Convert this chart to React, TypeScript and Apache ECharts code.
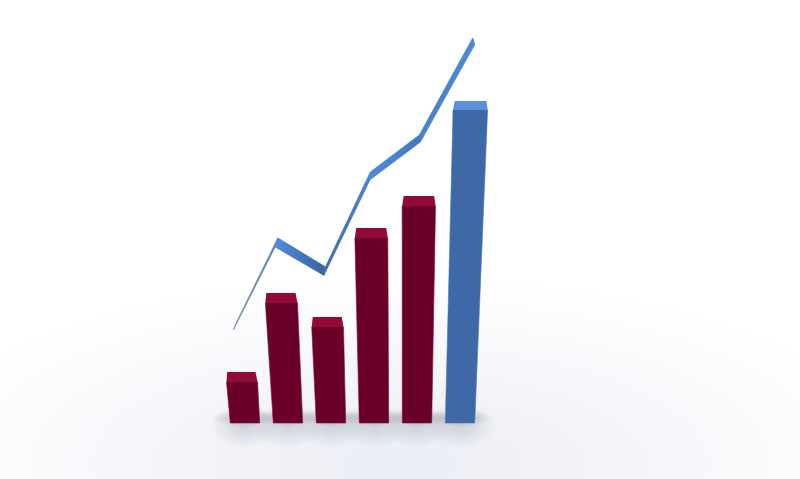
import React, { useEffect, useRef } from "react";
import * as echarts from "echarts";

const categories = ["A", "B", "C", "D", "E", "F"];
const barValues = [51, 130, 106, 195, 227, 322];
const lineValues = [103, 185, 156, 251, 288, 385];

const W = 800;
const H = 479;
const lean = (i: number) => -0.072 + 0.0165 * i + 0.0009 * i * i;

function softFill(color: string) {
  return new echarts.graphic.RadialGradient(0.5, 0.5, 0.5, [
    { offset: 0, color },
    { offset: 1, color: color.replace(/[\d.]+\)$/, "0)") },
  ]);
}

function renderBar(params: any, api: any) {
  const i = api.value(0);
  const v = api.value(1);
  const base = api.coord([i, 0]);
  const top = api.coord([i, v]);
  const blue = i === categories.length - 1;
  const cx = base[0] + lean(i) * v;
  const hb = 14.7;
  const ht = 15.2 + 0.0065 * v;
  const capH = blue ? 8.5 : 10;
  const capInset = 1.4;
  const front = blue ? "#3f69a6" : "#690027";
  const cap = blue ? "#5b90dc" : "#920a38";
  const capTop = top[1];
  const frontTop = top[1] + capH;
  const frontCx = cx - lean(i) * capH;
  return {
    type: "group",
    children: [
      {
        type: "polygon",
        shape: {
          points: [
            [base[0] - hb, base[1]],
            [base[0] + hb, base[1]],
            [frontCx + ht, frontTop],
            [frontCx - ht, frontTop],
          ],
        },
        style: { fill: front, stroke: blue ? "#4a78b8" : "#8a0c3c", lineWidth: 0.6 },
      },
      {
        type: "polygon",
        shape: {
          points: [
            [frontCx - ht, frontTop],
            [frontCx + ht, frontTop],
            [cx + ht - capInset, capTop],
            [cx - ht + capInset, capTop],
          ],
        },
        style: { fill: cap },
      },
    ],
  };
}

function renderShadow(params: any, api: any) {
  const i = api.value(0);
  const base = api.coord([i, 0]);
  return {
    type: "group",
    children: [
      {
        type: "ellipse",
        shape: { cx: base[0], cy: base[1] + 3, rx: 36, ry: 22 },
        style: { fill: softFill("rgba(150,152,170,0.38)") },
      },
      {
        type: "ellipse",
        shape: { cx: base[0], cy: base[1] - 5, rx: 34, ry: 9 },
        style: { fill: softFill("rgba(130,130,140,0.42)") },
      },
    ],
  };
}

function renderRibbon(params: any, api: any) {
  const i = api.value(0);
  const a = api.value(1);
  const b = api.value(2);
  const pt = (k: number, v: number) => {
    const c = api.coord([k, v]);
    return [c[0] + lean(k) * v, c[1]];
  };
  const off = (k: number) => [-4 + 1.2 * k, 9.5 - 0.6 * k];
  const p = pt(i, a);
  const q = pt(i + 1, b);
  const op = off(i);
  const oq = off(i + 1);
  const shades = [
    ["#7f93ab", "#5580ba"],
    ["#4f8ae0", "#37659f"],
    ["#3d6ea8", "#4a82cc"],
    ["#4f8ad8", "#4278c0"],
    ["#4a80c8", "#5088d4"],
  ][i];
  const grad = new echarts.graphic.LinearGradient(0, 0, 1, 0, [
    { offset: 0, color: shades[0] },
    { offset: 1, color: shades[1] },
  ]);
  return {
    type: "polygon",
    shape: {
      points: [
        p,
        q,
        [q[0] + oq[0], q[1] + oq[1]],
        [p[0] + op[0], p[1] + op[1]],
      ],
    },
    style: { fill: grad, stroke: grad, lineWidth: 0.9, lineJoin: "round" },
  };
}

export default function App() {
  const ref = useRef<HTMLDivElement>(null);
  useEffect(() => {
    const chart = echarts.init(ref.current!, undefined, { renderer: "svg" });
    chart.setOption({
      animation: false,
      backgroundColor: "#ffffff",
      grid: { left: 223.5, width: 258, top: 0, height: 423 },
      xAxis: { type: "category", data: categories, show: false },
      yAxis: { type: "value", min: 0, max: 423, show: false },
      graphic: {
        elements: [
          {
            type: "ellipse",
            z: -3,
            silent: true,
            shape: { cx: 400, cy: 465, rx: 500, ry: 190 },
            style: { fill: softFill("rgba(228,231,241,0.75)") },
          },
        ],
      },
      series: [
        {
          type: "custom",
          renderItem: renderShadow,
          data: barValues.map((v, i) => [i, v]),
          encode: { x: 0, y: 1 },
          z: 2,
        },
        {
          type: "custom",
          renderItem: renderRibbon,
          data: lineValues.slice(0, -1).map((v, i) => [i, v, lineValues[i + 1]]),
          encode: { x: 0, y: [1, 2] },
          z: 3,
        },
        {
          type: "custom",
          renderItem: renderBar,
          data: barValues.map((v, i) => [i, v]),
          encode: { x: 0, y: 1 },
          z: 4,
        },
      ],
    });
    return () => chart.dispose();
  }, []);
  return (
    <div
      ref={ref}
      style={{ position: "fixed", left: 0, top: 0, width: W, height: H, background: "#fff" }}
    />
  );
}
